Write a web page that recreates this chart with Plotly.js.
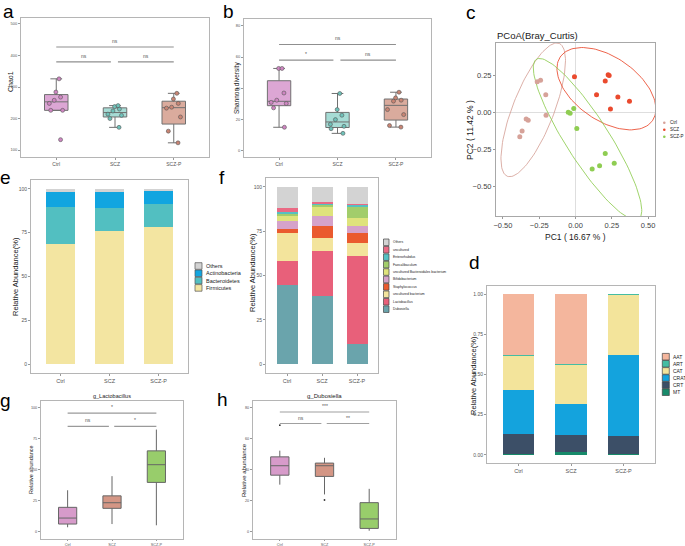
<!DOCTYPE html>
<html><head><meta charset="utf-8">
<script src="https://cdn.plot.ly/plotly-3.0.1.min.js"></script>
<style>html,body{margin:0;padding:0;background:#fff}#chart{width:685px;height:546px}</style>
</head><body><div id="chart"></div>
<script>
// ---------------- DATA ----------------
const groups = ['Ctrl', 'SCZ', 'SCZ-P'];

// a: Chao1 (per-sample values)
const chaoCtrl = [133, 226, 226, 248, 258, 268, 284, 326];
const chaoSCZ = [172, 200, 210, 214, 224, 230, 238, 241];
const chaoSCZP = [123, 160, 205, 233, 236, 248, 262, 280];

// b: Shannon diversity
const shanCtrl = [15.1, 27.5, 30.3, 31.0, 32.4, 37.0, 52.7, 52.7];
const shanSCZ = [11.2, 14.2, 15.7, 17.0, 20.0, 22.8, 26.4, 36.7];
const shanSCZP = [15.2, 16.2, 23.2, 26.4, 31.8, 32.4, 33.9, 37.5];

// c: PCoA coordinates
const pcCtrlX = [-0.264, -0.241, -0.205, -0.203, -0.340, -0.326, -0.368, -0.384];
const pcCtrlY = [0.210, 0.220, 0.122, -0.017, -0.043, -0.051, -0.123, -0.163];
const pcSCZX = [-0.007, 0.225, 0.232, 0.205, 0.145, 0.292, 0.372, 0.241];
const pcSCZY = [0.243, 0.257, 0.252, 0.215, 0.122, 0.106, 0.077, 0.025];
const pcSCZPX = [-0.050, -0.037, -0.012, 0.009, 0.205, 0.267, 0.166, 0.115];
const pcSCZPY = [0.003, -0.004, 0.028, -0.106, -0.275, -0.342, -0.358, -0.380];
const pcLabels = ['Ctrl', 'SCZ', 'SCZ-P'];

// e: phylum relative abundance (%), stack order bottom -> top
const phylumNames = ['Firmicutes', 'Bacteroidetes', 'Actinobacteria', 'Others'];
const phyFirmicutes = [68.4, 76.2, 78.1];
const phyBacteroidetes = [21.3, 12.8, 13.5];
const phyActinobacteria = [8.2, 9.3, 7.4];
const phyOthers = [2.1, 1.7, 1.0];

// f: genus relative abundance (%), bottom -> top
const genusNames = ['Dubosiella', 'Lactobacillus', 'uncultured bacterium', 'Staphylococcus', 'Bifidobacterium',
  'uncultured Bacteroidales bacterium', 'Faecalibaculum', 'Enterorhabdus', 'uncultured', 'Others'];
const genDubosiella = [44.5, 38.3, 11.3];
const genLactobacillus = [13.7, 25.5, 49.5];
const genUnculturedBacterium = [15.7, 7.1, 7.5];
const genStaphylococcus = [2.6, 6.8, 5.6];
const genBifidobacterium = [4.0, 6.0, 4.0];
const genUncBacteroidales = [2.8, 4.9, 4.3];
const genFaecalibaculum = [1.5, 0.9, 6.4];
const genEnterorhabdus = [1.3, 0.9, 1.1];
const genUncultured = [1.7, 1.0, 0.9];
const genOthers = [12.2, 8.6, 9.4];

// d: type relative abundance (fraction), bottom -> top
const typeNames = ['MT', 'CRT', 'CRAT', 'CAT', 'ART', 'AAT'];
const typeMT = [0.004, 0.016, 0.008];
const typeCRT = [0.126, 0.109, 0.112];
const typeCRAT = [0.273, 0.190, 0.499];
const typeCAT = [0.214, 0.245, 0.375];
const typeART = [0.005, 0.006, 0.006];
const typeAAT = [0.378, 0.434, 0.000];

// g: g_Lactobacillus box stats [Ctrl, SCZ, SCZ-P]
const lacQ1 = [6.3, 18.9, 39.7];
const lacMedian = [11.1, 23.4, 53.9];
const lacQ3 = [19.7, 28.9, 65.0];
const lacLower = [3.7, 6.3, 5.3];
const lacUpper = [33.4, 44.7, 82.1];

// h: g_Dubosiella box stats
const dubQ1 = [36.4, 35.6, 2.1];
const dubMedian = [42.5, 42.5, 8.2];
const dubQ3 = [48.2, 44.2, 18.7];
const dubLower = [30.3, 24.0, 0.6];
const dubUpper = [52.2, 47.6, 27.6];
const dubOutlierGroup = ['Ctrl', 'SCZ'];
const dubOutlierVal = [68.6, 20.4];

// significance labels [top, left, right]
const sigA = ['ns', 'ns', 'ns'];
const sigB = ['ns', '*', 'ns'];
const sigG = ['*', 'ns', '*'];
const sigH = ['***', 'ns', '**'];

// ---------------- STYLE / LAYOUT HELPERS ----------------
const W = 685, H = 546;
const P = px => px / W, Q = py => 1 - py / H;
const FONT = 'Liberation Sans, Arial, sans-serif';
const frameCol = '#b5b5b5';

const traces = [], shapes = [], annotations = [];
const layout = {
  width: W, height: H, margin: {l: 0, r: 0, t: 0, b: 0},
  paper_bgcolor: '#fff', plot_bgcolor: '#fff', showlegend: false,
  barmode: 'stack', font: {family: FONT, color: '#333'},
  shapes, annotations
};

function catAxis(x0, x1, anchor, fs, tl) {
  return {domain: [P(x0), P(x1)], anchor, type: 'category', categoryorder: 'array', categoryarray: groups,
    range: [-0.6, 2.6], showline: true, mirror: true, linecolor: frameCol, linewidth: 1,
    ticks: 'outside', ticklen: tl || 2, tickcolor: '#999', tickfont: {size: fs, color: '#555', family: FONT},
    showgrid: false, zeroline: false, fixedrange: true};
}
function valAxis(y0, y1, anchor, range, tickvals, fs, fmt) {
  return {domain: [Q(y1), Q(y0)], anchor, range, tickvals, tickformat: fmt || '',
    showline: true, mirror: true, linecolor: frameCol, linewidth: 1,
    ticks: 'outside', ticklen: 2, tickcolor: '#999', tickfont: {size: fs, color: '#555', family: FONT},
    showgrid: false, zeroline: false, fixedrange: true};
}
function txt(x, y, text, size, opts) {
  annotations.push(Object.assign({xref: 'paper', yref: 'paper', x: P(x), y: Q(y), text, showarrow: false,
    font: {size, color: '#1a1a1a', family: FONT}, xanchor: 'center', yanchor: 'middle'}, opts || {}));
}
function sig(xa, ya, labels, yTop, yLow, col) {
  const segs = [[0, 2, yTop, labels[0]], [0, 0.93, yLow, labels[1]], [1.05, 2, yLow, labels[2]]];
  segs.forEach(s => {
    shapes.push({type: 'line', xref: xa, yref: ya, x0: s[0], x1: s[1], y0: s[2], y1: s[2],
      line: {color: col, width: 1.2}});
    annotations.push({xref: xa, yref: ya, x: (s[0] + s[1]) / 2, y: s[2], text: s[3], showarrow: false,
      yanchor: 'bottom', yshift: 1, font: {size: 5, color: '#555', family: FONT}});
  });
}
function legendBlock(names, colors, x, y0, dy, sw, sh, fs, outline) {
  names.forEach((nm, i) => {
    const yc = y0 + i * dy;
    shapes.push({type: 'rect', xref: 'paper', yref: 'paper', x0: P(x), x1: P(x + sw),
      y0: Q(yc + sh / 2), y1: Q(yc - sh / 2), fillcolor: colors[i], line: {color: outline, width: 0.7}});
    annotations.push({xref: 'paper', yref: 'paper', x: P(x + sw + 2), y: Q(yc), text: nm, showarrow: false,
      xanchor: 'left', yanchor: 'middle', font: {size: fs, color: '#222', family: FONT}});
  });
}

// ---------------- a & b: box + points ----------------
const boxFill = ['rgba(214,150,204,0.85)', 'rgba(150,214,206,0.85)', 'rgba(212,156,140,0.85)'];
const ptFill = ['#cf86c2', '#6fc2ba', '#c98574'];
function boxPts(vals, gi, xa, ya) {
  traces.push({type: 'box', x: vals.map(() => groups[gi]), y: vals, xaxis: xa, yaxis: ya,
    width: 0.4, boxpoints: 'all', jitter: 0.9, pointpos: 0, whiskerwidth: 0.5,
    fillcolor: boxFill[gi], line: {color: '#707070', width: 1},
    marker: {color: ptFill[gi], size: 4, line: {color: '#555', width: 0.6}}, hoverinfo: 'skip'});
}
[chaoCtrl, chaoSCZ, chaoSCZP].forEach((v, i) => boxPts(v, i, 'x', 'y'));
[shanCtrl, shanSCZ, shanSCZP].forEach((v, i) => boxPts(v, i, 'x2', 'y2'));
layout.xaxis = catAxis(21, 209, 'y', 5);
layout.yaxis = valAxis(18, 157, 'x', [78, 519], [100, 200, 300, 400, 500], 4);
layout.xaxis2 = catAxis(244, 431, 'y2', 5);
layout.yaxis2 = valAxis(19, 157, 'x2', [-3.9, 84.3], [0, 20, 40, 60, 80], 4);
sig('x', 'y', sigA, 427, 380, '#8f8f8f');
sig('x2', 'y2', sigB, 68, 58, '#8f8f8f');
txt(10, 82, 'Chao1', 7, {textangle: -90});
txt(237, 88, 'Shannon diversity', 6.5, {textangle: -90});

// ---------------- c: PCoA ----------------
const pcColors = ['#d6a299', '#ea4a2e', '#8fcd52'];
const pcX = [pcCtrlX, pcSCZX, pcSCZPX], pcY = [pcCtrlY, pcSCZY, pcSCZPY];
function ellipse(xs, ys) {
  const n = xs.length;
  const mx = xs.reduce((a, b) => a + b, 0) / n, my = ys.reduce((a, b) => a + b, 0) / n;
  let sxx = 0, syy = 0, sxy = 0;
  for (let i = 0; i < n; i++) { sxx += (xs[i] - mx) ** 2; syy += (ys[i] - my) ** 2; sxy += (xs[i] - mx) * (ys[i] - my); }
  sxx /= n - 1; syy /= n - 1; sxy /= n - 1;
  const d = n - 1, f = d / 2 * (Math.pow(0.05, -2 / d) - 1), r = Math.sqrt(2 * f);
  const tr = sxx + syy, det = sxx * syy - sxy * sxy, disc = Math.sqrt(tr * tr / 4 - det);
  const l1 = tr / 2 + disc, l2 = tr / 2 - disc, a = 0.5 * Math.atan2(2 * sxy, sxx - syy);
  const ex = [], ey = [];
  for (let k = 0; k <= 120; k++) {
    const t = 2 * Math.PI * k / 120, u = r * Math.sqrt(l1) * Math.cos(t), v = r * Math.sqrt(l2) * Math.sin(t);
    ex.push(mx + u * Math.cos(a) - v * Math.sin(a)); ey.push(my + u * Math.sin(a) + v * Math.cos(a));
  }
  return [ex, ey];
}
pcX.forEach((xs, i) => {
  const e = ellipse(xs, pcY[i]);
  traces.push({type: 'scatter', mode: 'lines', x: e[0], y: e[1], xaxis: 'x3', yaxis: 'y3',
    line: {color: pcColors[i], width: 1}, opacity: 0.85, hoverinfo: 'skip'});
});
pcX.forEach((xs, i) => {
  traces.push({type: 'scatter', mode: 'markers', x: xs, y: pcY[i], xaxis: 'x3', yaxis: 'y3',
    marker: {color: pcColors[i], size: 5}, hoverinfo: 'skip', cliponaxis: true});
});
const pcAxisCommon = {showline: true, mirror: true, linecolor: '#a8a8a8', linewidth: 1, ticks: 'outside',
  ticklen: 2, tickcolor: '#999', tickfont: {size: 7.5, color: '#444', family: FONT}, showgrid: false,
  zeroline: true, zerolinecolor: '#dedede', zerolinewidth: 1, fixedrange: true, tickformat: '.2f'};
layout.xaxis3 = Object.assign({domain: [P(496), P(655)], anchor: 'y3', range: [-0.548, 0.548],
  tickvals: [-0.5, -0.25, 0, 0.25, 0.5]}, pcAxisCommon);
layout.yaxis3 = Object.assign({domain: [Q(216), Q(43)], anchor: 'x3', range: [-0.698, 0.471],
  tickvals: [-0.5, -0.25, 0, 0.25]}, pcAxisCommon);
txt(495, 36, 'PCoA(Bray_Curtis)', 9.5, {xanchor: 'left'});
txt(575, 237, 'PC1 ( 16.67 % )', 8.5);
txt(470, 130, 'PC2 ( 11.42 % )', 8.5, {textangle: -90});
pcLabels.forEach((nm, i) => {
  const yc = 122.7 + i * 7;
  shapes.push({type: 'circle', xref: 'paper', yref: 'paper', x0: P(663), x1: P(665.6),
    y0: Q(yc + 1.3), y1: Q(yc - 1.3), fillcolor: pcColors[i], line: {width: 0}});
  txt(667.5, yc, nm, 4.5, {xanchor: 'left'});
});

// ---------------- e: phylum stacked bars ----------------
const phyValues = [phyFirmicutes, phyBacteroidetes, phyActinobacteria, phyOthers];
const phyColors = ['#f3e5a1', '#52bfc1', '#11a5e0', '#d3d3d3'];
phyValues.forEach((v, i) => traces.push({type: 'bar', x: groups, y: v, xaxis: 'x4', yaxis: 'y4', width: 0.6,
  marker: {color: phyColors[i], line: {width: 0}}, hoverinfo: 'skip'}));
layout.xaxis4 = catAxis(31, 188, 'y4', 5.5);
layout.yaxis4 = valAxis(180, 373, 'x4', [-5, 105], [0, 25, 50, 75, 100], 5);
txt(15, 277, 'Relative Abundance(%)', 7.5, {textangle: -90});
legendBlock(phylumNames.slice().reverse(), phyColors.slice().reverse(), 195, 266, 7.3, 7, 6.6, 5.5, '#555');

// ---------------- f: genus stacked bars ----------------
const genValues = [genDubosiella, genLactobacillus, genUnculturedBacterium, genStaphylococcus, genBifidobacterium,
  genUncBacteroidales, genFaecalibaculum, genEnterorhabdus, genUncultured, genOthers];
const genColors = ['#6aa4ac', '#e8607a', '#f3e49c', '#ea5a2e', '#d5a2ca', '#dfe37c', '#a2cd6b', '#56c0c2', '#ea6a84', '#d3d3d3'];
genValues.forEach((v, i) => traces.push({type: 'bar', x: groups, y: v, xaxis: 'x5', yaxis: 'y5', width: 0.6,
  marker: {color: genColors[i], line: {width: 0}}, hoverinfo: 'skip'}));
layout.xaxis5 = catAxis(266, 378, 'y5', 5.5);
layout.yaxis5 = valAxis(178, 373, 'x5', [-5, 105], [0, 25, 50, 75, 100], 5);
txt(252, 272, 'Relative Abundance(%)', 7.5, {textangle: -90});
legendBlock(genusNames.slice().reverse(), genColors.slice().reverse(), 383.5, 242.3, 7.43, 5.5, 6.6, 3.4, '#444');

// ---------------- d: type stacked bars ----------------
const typeValues = [typeMT, typeCRT, typeCRAT, typeCAT, typeART, typeAAT];
const typeColors = ['#178a6a', '#3c4f67', '#14a3dd', '#f3e49b', '#45bda3', '#f4b69d'];
typeValues.forEach((v, i) => traces.push({type: 'bar', x: groups, y: v, xaxis: 'x6', yaxis: 'y6', width: 0.6,
  marker: {color: typeColors[i], line: {width: 0}}, hoverinfo: 'skip'}));
layout.xaxis6 = catAxis(487, 655, 'y6', 5.5);
layout.yaxis6 = valAxis(286, 463, 'x6', [-0.05, 1.05], [0, 0.25, 0.5, 0.75, 1], 5, '.2f');
txt(473, 375, 'Relative Abundance(%)', 7.5, {textangle: -90});
legendBlock(typeNames.slice().reverse(), typeColors.slice().reverse(), 662.3, 356.7, 7.1, 7, 6.6, 5, '#444');

// ---------------- g & h: precomputed boxplots ----------------
const gFill = ['#d79bca', '#d49685', '#98cd6b'];
function statBox(q1, med, q3, lo, hi, xa, ya) {
  groups.forEach((g, i) => traces.push({type: 'box', x: [g], q1: [q1[i]], median: [med[i]], q3: [q3[i]],
    lowerfence: [lo[i]], upperfence: [hi[i]], xaxis: xa, yaxis: ya, width: 0.41, whiskerwidth: 0,
    boxpoints: false, fillcolor: gFill[i], line: {color: '#666', width: 1}, hoverinfo: 'skip'}));
}
statBox(lacQ1, lacMedian, lacQ3, lacLower, lacUpper, 'x7', 'y7');
statBox(dubQ1, dubMedian, dubQ3, dubLower, dubUpper, 'x8', 'y8');
traces.push({type: 'scatter', mode: 'markers', x: dubOutlierGroup, y: dubOutlierVal, xaxis: 'x8', yaxis: 'y8',
  marker: {color: '#333', size: 1.8}, hoverinfo: 'skip'});
layout.xaxis7 = catAxis(41, 183, 'y7', 3.8, 1.5);
layout.yaxis7 = valAxis(401, 538.5, 'x7', [-5.3, 105], [0, 25, 50, 75, 100], 3.8);
layout.xaxis8 = catAxis(253, 396, 'y8', 3.8, 1.5);
layout.yaxis8 = valAxis(401, 538.5, 'x8', [-4.4, 84.2], [0, 20, 40, 60, 80], 3.8);
sig('x7', 'y7', sigG, 95.3, 84.7, '#9a9a9a');
sig('x8', 'y8', sigH, 77.1, 69.7, '#a0a0a0');
txt(112, 396, 'g_Lactobacillus', 5.5);
txt(324, 396, 'g_Dubosiella', 6);
txt(31, 470, 'Relative abundance', 5.5, {textangle: -90});
txt(244, 470, 'Relative abundance', 6, {textangle: -90});

// ---------------- panel letters ----------------
[['a', 8.5, 11], ['b', 228, 11], ['c', 470.5, 12], ['e', 5, 178], ['f', 222, 178],
 ['d', 474, 262], ['g', 5, 400], ['h', 222, 399]].forEach(l => txt(l[1], l[2], l[0], 19, {font: {size: 19, color: '#000', family: FONT}}));

Plotly.newPlot('chart', traces, layout, {staticPlot: true, displayModeBar: false});
</script></body></html>
